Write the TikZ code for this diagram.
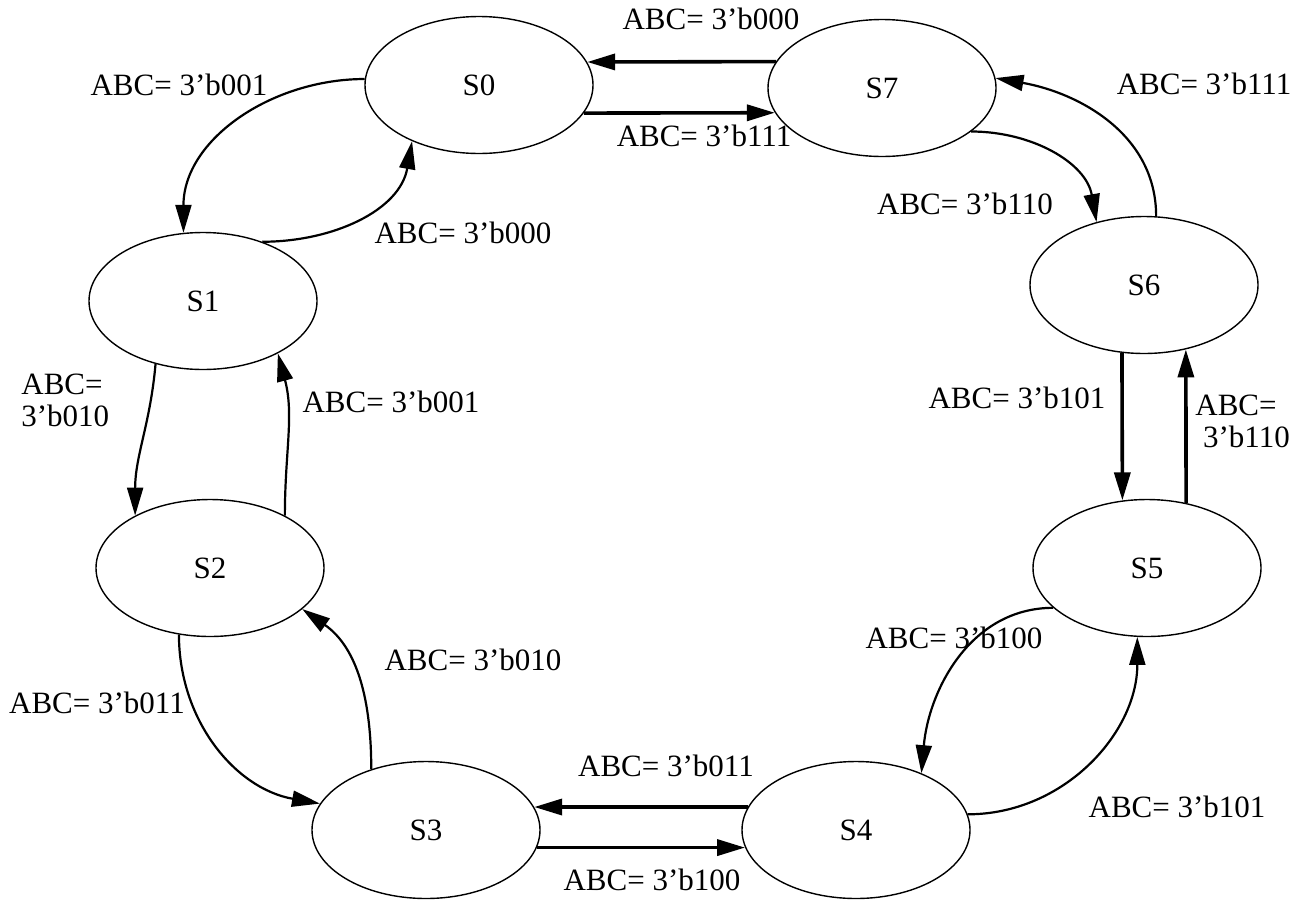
\documentclass[tikz,border=0pt]{standalone}
\usepackage{fontspec}
\setmainfont{Liberation Serif}
\usetikzlibrary{arrows.meta,shapes.geometric}

\tikzset{
  state/.style={ellipse, draw, line width=0.7pt, minimum width=114pt,
    minimum height=68.5pt, inner sep=0pt, font=\fontsize{15.5}{18}\selectfont},
  lbl/.style={font=\fontsize{15.5}{16}\selectfont, inner sep=0pt},
  trans/.style={line width=1.1pt, -{Triangle[length=14pt,width=8pt]}},
  hop/.style={line width=1.8pt, -{Triangle[length=14pt,width=8pt]}},
}

\begin{document}
\begin{tikzpicture}[x=0.5pt,y=-0.5pt]
  \useasboundingbox (0,0) rectangle (1305,900);
  % ── States ──
  \node[state] (S0) at (479,85)  {S0};
  \node[state] (S7) at (882,88)  {S7};
  \node[state] (S1) at (203,301) {S1};
  \node[state] (S6) at (1144,285) {S6};
  \node[state] (S2) at (210,568) {S2};
  \node[state] (S5) at (1147,568) {S5};
  \node[state] (S3) at (426,830) {S3};
  \node[state] (S4) at (856,830) {S4};
  %
  % ── Top: S0 <-> S7 ──
  \draw[hop] (S7.166) -- (S0.12);
  \draw[hop] (S0.-15) -- (S7.-167);
  \node[lbl] (l70) at (711,19)  {ABC= 3'b000};
  \node[lbl] (l07) at (704,136) {ABC= 3'b111};
  %
  % ── Left side: S0 -> S1 -> S2 -> S3 and back ──
  \draw[trans] (S0.177) to[out=180,in=90] (S1.106);
  \draw[trans] (S1.45) to[out=0,in=-100] (S0.-140);
  \node[lbl] (l01) at (179,85)  {ABC= 3'b001};
  \node[lbl] (l10) at (463,233) {ABC= 3'b000};
  \draw[trans] (S1.-127) to[out=-95,in=90] (S2.145);
  \draw[trans] (S2.35) to[out=90,in=-75] (S1.-35);
  \node[lbl, align=left, anchor=west] (l12) at (21,400) {ABC=\\3'b010};
  \node[lbl] (l21) at (391,402) {ABC= 3'b001};
  \draw[trans] (S2.-115) to[out=-90,in=170] (S3.166);
  \draw[trans] (S3.132) to[out=90,in=-35] (S2.-24);
  \node[lbl] (l23) at (97,703)  {ABC= 3'b011};
  \node[lbl] (l32) at (473,660) {ABC= 3'b010};
  %
  % ── Bottom: S3 <-> S4 ──
  \draw[hop] (S4.168) -- (S3.12);
  \draw[hop] (S3.-9) -- (S4.-171);
  \node[lbl] (l43) at (666,766) {ABC= 3'b011};
  \node[lbl] (l34) at (652,880) {ABC= 3'b100};
  %
  % ── Right side: S4 -> S5 -> S6 -> S7 and back ──
  \draw[trans] (S5.-157) to[out=180,in=85] (S4.41);
  \draw[trans] (S4.8) to[out=0,in=-90] (S5.-98);
  \node[lbl] (l54) at (954,638)  {ABC= 3'b100};
  \node[lbl] (l45) at (1177,807) {ABC= 3'b101};
  \draw[hop] (S6.-108) -- (S5.110);
  \draw[hop] (S5.59) -- (S6.-57);
  \node[lbl] (l65) at (1017,398) {ABC= 3'b101};
  \node[lbl, align=left, anchor=west] (l56) at (1195,421) {ABC=\\~3'b110};
  \draw[trans] (S6.80) to[out=90,in=-10] (S7.5);
  \draw[trans] (S7.-26) to[out=0,in=100] (S6.127);
  \node[lbl] (l76) at (965,204)  {ABC= 3'b110};
  \node[lbl] (l67) at (1204,84)  {ABC= 3'b111};
\end{tikzpicture}
\end{document}
